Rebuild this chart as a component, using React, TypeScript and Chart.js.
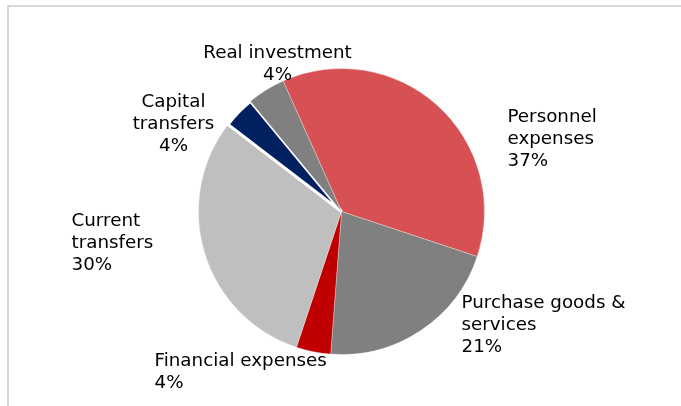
import React, { useEffect, useRef } from 'react';
import { Chart, registerables } from 'chart.js';

Chart.register(...registerables);

// ---- data ----
const categories = [
  'Personnel expenses',
  'Purchase goods & services',
  'Financial expenses',
  'Current transfers',
  'Capital transfers',
  'Real investment',
];
const labelLines = [
  ['Personnel', 'expenses'],
  ['Purchase goods &', 'services'],
  ['Financial expenses'],
  ['Current', 'transfers'],
  ['Capital', 'transfers'],
  ['Real investment'],
];
const values = [36.8, 21.1, 3.9, 30.3, 3.6, 4.3];
const colors = ['#D65054', '#808080', '#C00000', '#BFBFBF', '#002060', '#808080'];

// ---- label layout (offset from pie centre, first baseline) ----
const labelLayout = [
  { dx: 166, dy: -90, align: 'left' },
  { dx: 120, dy: 96, align: 'left' },
  { dx: -187, dy: 154, align: 'left' },
  { dx: -270, dy: 14, align: 'left' },
  { dx: -168, dy: -105, align: 'center' },
  { dx: -64, dy: -154, align: 'center' },
];
const LINE_H = 22;
const FONT = '18.3px "DejaVu Sans", Verdana, sans-serif';

const labelPlugin = {
  id: 'sliceLabels',
  afterDatasetsDraw(chart: any) {
    const meta = chart.getDatasetMeta(0);
    const ctx = chart.ctx;
    const total = values.reduce((a, b) => a + b, 0);
    ctx.save();
    ctx.font = FONT;
    ctx.fillStyle = '#000000';
    ctx.textBaseline = 'alphabetic';
    meta.data.forEach((arc: any, i: number) => {
      const lay = labelLayout[i];
      const lines = [...labelLines[i], Math.round((values[i] / total) * 100) + '%'];
      ctx.textAlign = lay.align;
      lines.forEach((t, j) => {
        ctx.fillText(t, arc.x + lay.dx, arc.y + lay.dy + j * LINE_H);
      });
    });
    ctx.restore();
  },
};

export default function App() {
  const ref = useRef<HTMLCanvasElement | null>(null);

  useEffect(() => {
    document.body.style.margin = '0';
    if (!ref.current) return;
    const soft = 'rgba(255,255,255,0.5)';
    const chart = new Chart(ref.current, {
      type: 'pie',
      data: {
        labels: categories,
        datasets: [
          {
            data: values,
            backgroundColor: colors,
            borderColor: [soft, soft, soft, soft, '#ffffff', soft],
            borderWidth: [0.6, 0.6, 0.6, 0.6, 3, 0.6],
          },
        ],
      },
      options: {
        responsive: false,
        animation: false,
        rotation: -24.1,
        layout: { padding: { top: 67, bottom: 50, left: 197, right: 195 } },
        plugins: {
          legend: { display: false },
          tooltip: { enabled: false },
          title: { display: false },
        },
      },
      plugins: [labelPlugin],
    });
    return () => chart.destroy();
  }, []);

  return (
    <div style={{ position: 'relative', width: 681, height: 406, background: '#fff', overflow: 'hidden' }}>
      <canvas ref={ref} width={681} height={406} style={{ display: 'block' }} />
      <div
        style={{
          position: 'absolute',
          left: 7,
          top: 5,
          right: 0,
          bottom: 0,
          borderTop: '2px solid #d9d9d9',
          borderLeft: '2px solid #d9d9d9',
          pointerEvents: 'none',
        }}
      />
    </div>
  );
}
